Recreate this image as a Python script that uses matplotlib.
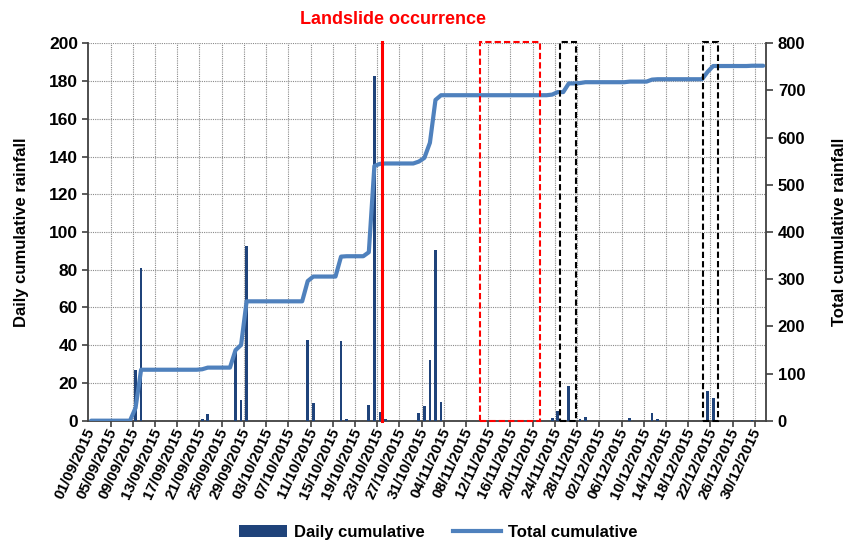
import matplotlib
matplotlib.use("Agg")
import matplotlib.pyplot as plt
from matplotlib.lines import Line2D
from matplotlib.patches import Patch, Rectangle
import numpy as np
import pandas as pd

# daily rainfall, only the days with rain (everything else is 0)
RAIN_DATES = [
    "2015-09-09", "2015-09-10", "2015-09-21", "2015-09-22", "2015-09-27", "2015-09-28",
    "2015-09-29", "2015-10-10", "2015-10-11", "2015-10-16", "2015-10-17", "2015-10-21",
    "2015-10-22", "2015-10-23", "2015-10-24", "2015-10-30", "2015-10-31", "2015-11-01",
    "2015-11-02", "2015-11-03", "2015-11-23", "2015-11-24", "2015-11-26", "2015-11-28",
    "2015-11-29", "2015-12-07", "2015-12-11", "2015-12-12", "2015-12-21", "2015-12-22",
    "2015-12-29",
]
RAIN_MM = [
    27, 81, 1, 3.5, 37, 11,
    92.5, 43, 9.5, 42.3, 0.8, 8.5,
    182.8, 4.5, 0.8, 4, 7.8, 32.2,
    90.7, 10, 1.3, 5.3, 18.4, 0.8,
    1.8, 1.3, 4.2, 0.8, 15.8, 12.2,
    0.6,
]
START_DATE = "2015-09-01"
END_DATE = "2015-12-31"

LANDSLIDE_POS = 52.4  # day index, just after 23/10
RED_WINDOW = (70.1, 80.9)
BLACK_WINDOWS = [(84.5, 87.3), (110.15, 112.9)]

BAR_COLOR = "#1F437A"
LINE_COLOR = "#4F81BD"
SPINE_COLOR = "#404040"
GRID_COLOR = "#8a8a8a"

plt.rcParams.update(
    {
        "font.family": ["Liberation Sans", "DejaVu Sans"],
        "font.weight": "bold",
        "axes.labelweight": "bold",
    }
)

dates = pd.date_range(START_DATE, END_DATE, freq="D")
daily = pd.Series(0.0, index=dates)
daily.loc[pd.to_datetime(RAIN_DATES)] = RAIN_MM
total = daily.cumsum()
x = np.arange(len(dates))

fig = plt.figure(figsize=(8.46, 5.41), dpi=100)
ax = fig.add_axes([0.1044, 0.2224, 0.801, 0.6976])
ax2 = ax.twinx()

ax.bar(x, daily.values, width=0.5, color=BAR_COLOR, zorder=3)
ax2.plot(x, total.values, color=LINE_COLOR, linewidth=3, solid_joinstyle="round",
         solid_capstyle="round", zorder=4)

n = len(dates)
ax.set_xlim(-0.5, n - 0.5)
ax.set_ylim(0, 200)
ax2.set_ylim(0, 800)
ax.set_yticks(np.arange(0, 201, 20))
ax2.set_yticks(np.arange(0, 801, 100))

label_pos = x[::4]
ax.set_xticks(label_pos)
ax.set_xticklabels([dates[i].strftime("%d/%m/%Y") for i in label_pos],
                   rotation=65, ha="right", va="center", rotation_mode="anchor", fontsize=11)
ax.set_xticks(np.arange(3.5, n - 0.5, 4), minor=True)
ax.tick_params(axis="x", which="major", length=0, pad=6)
ax.tick_params(axis="x", which="minor", length=4, width=1.2, color=SPINE_COLOR)
ax.tick_params(axis="y", length=4, width=1.2, color=SPINE_COLOR, labelsize=12.5)
ax2.tick_params(axis="y", length=5, width=1.2, color=SPINE_COLOR, labelsize=12)

ax.grid(which="minor", axis="x", color=GRID_COLOR, linestyle=(0, (1, 1)), linewidth=0.8)
ax.grid(which="major", axis="y", color=GRID_COLOR, linestyle=(0, (1, 1)), linewidth=0.8)
ax.set_axisbelow(True)

for side in ["top", "right"]:
    ax.spines[side].set_visible(False)
for side in ["top", "left", "bottom"]:
    ax2.spines[side].set_visible(False)
for a, sides in [(ax, ["left", "bottom"]), (ax2, ["right"])]:
    for side in sides:
        a.spines[side].set_color(SPINE_COLOR)
        a.spines[side].set_linewidth(1.3)

ax.set_ylabel("Daily cumulative rainfall", fontsize=12, labelpad=14)
ax2.set_ylabel("Total cumulative rainfall", fontsize=12, labelpad=19)

# landslide marker and highlighted windows
trans = ax2.get_xaxis_transform()
ax2.plot([LANDSLIDE_POS, LANDSLIDE_POS], [0, 1.004], transform=trans, color="red",
         linewidth=2.2, clip_on=False, zorder=6)
ax2.add_patch(Rectangle((RED_WINDOW[0], 0), RED_WINDOW[1] - RED_WINDOW[0], 1.004,
                        transform=trans, fill=False, edgecolor="red", linewidth=1.5,
                        linestyle=(0, (3, 1.5)), clip_on=False, zorder=6))
for lo, hi in BLACK_WINDOWS:
    ax2.add_patch(Rectangle((lo, 0), hi - lo, 1.004, transform=trans, fill=False,
                            edgecolor="black", linewidth=1.5, linestyle=(0, (3, 1.5)),
                            clip_on=False, zorder=6))

fig.text(393 / 846, 1 - 20 / 541, "Landslide occurrence", color="red", fontsize=13,
         fontweight="bold", ha="center", va="center")

fig.legend(
    handles=[
        Patch(facecolor=BAR_COLOR, edgecolor="none", label="Daily cumulative"),
        Line2D([0], [0], color=LINE_COLOR, linewidth=3, label="Total cumulative"),
    ],
    loc="center",
    bbox_to_anchor=(0.518, 0.016),
    ncol=2,
    frameon=False,
    handlelength=2.9,
    handletextpad=0.4,
    columnspacing=1.7,
    prop={"size": 12, "weight": "bold"},
)

fig.savefig("out.png", dpi=100)
